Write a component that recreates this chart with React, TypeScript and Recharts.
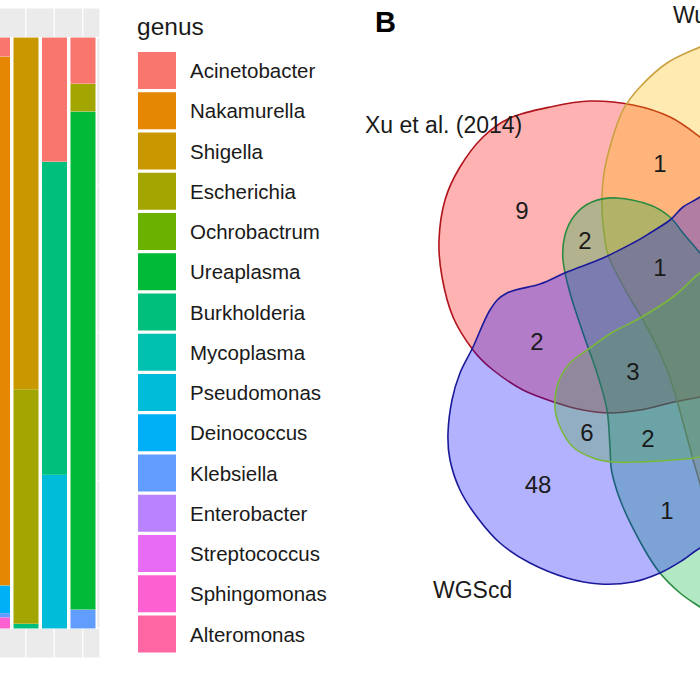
import React from "react";
import {
  BarChart,
  Bar,
  XAxis,
  YAxis,
  CartesianGrid,
  Legend,
  ScatterChart,
  Scatter,
} from "recharts";

const FONT = '"Liberation Sans", Arial, Helvetica, sans-serif';

// ---- panel A: genus composition per sample (only the right-most samples are in view)
const SAMPLES = ["S1", "S2", "S3", "S4"];
const GENERA = [
  "Acinetobacter",
  "Nakamurella",
  "Shigella",
  "Escherichia",
  "Ochrobactrum",
  "Ureaplasma",
  "Burkholderia",
  "Mycoplasma",
  "Pseudomonas",
  "Deinococcus",
  "Klebsiella",
  "Enterobacter",
  "Streptococcus",
  "Sphingomonas",
  "Alteromonas",
];
const GENUS_COLORS = [
  "#F8766D",
  "#E58700",
  "#C99800",
  "#A3A500",
  "#6BB100",
  "#00BA38",
  "#00BF7D",
  "#00C0AF",
  "#00BCD8",
  "#00B0F6",
  "#619CFF",
  "#B983FF",
  "#E76BF3",
  "#FD61D1",
  "#FF67A4",
];
// relative abundance, same order as GENERA
const S1_SHARES = [0.032, 0.895, 0, 0, 0, 0, 0, 0, 0, 0.047, 0.007, 0, 0, 0.019, 0];
const S2_SHARES = [0, 0, 0.595, 0.397, 0, 0, 0.008, 0, 0, 0, 0, 0, 0, 0, 0];
const S3_SHARES = [0.21, 0, 0, 0, 0, 0, 0.53, 0, 0.26, 0, 0, 0, 0, 0, 0];
const S4_SHARES = [0.078, 0, 0, 0.047, 0, 0.843, 0, 0, 0, 0, 0.032, 0, 0, 0, 0];
const Y_TICKS = [0, 0.25, 0.5, 0.75, 1];

// ---- panel B: five-set Venn, outlines in venn units (x right, y up)
const XU_OUTLINE = [
  [500, 1198], [586, 1190], [660, 1166], [720, 1126], [800, 1060], [860, 970],
  [890, 860], [880, 740], [830, 650], [770, 616], [720, 606], [660, 594],
  [600, 580], [540, 574], [486, 580], [434, 594], [366, 620], [306, 660],
  [266, 700], [226, 766], [204, 846], [198, 920], [210, 1000], [240, 1066],
  [286, 1126], [340, 1164], [420, 1186],
];
const WU_OUTLINE = [
  [720, 1306], [654, 1274], [600, 1226], [566, 1180], [544, 1120], [528, 1054],
  [524, 986], [530, 920], [540, 880], [574, 814], [606, 760], [640, 694],
  [666, 626], [694, 526], [714, 454], [744, 370], [810, 330], [900, 400],
  [980, 560], [1020, 760], [1010, 980], [950, 1180], [860, 1300], [780, 1330],
];
const GREEN_OUTLINE = [
  [554, 1004], [620, 990], [660, 966], [686, 934], [720, 894], [800, 800],
  [870, 620], [910, 400], [890, 220], [820, 150], [760, 160], [720, 186],
  [680, 214], [640, 254], [606, 306], [566, 386], [544, 454], [540, 506],
  [534, 580], [514, 654], [486, 734], [460, 814], [446, 880], [450, 930],
  [470, 970], [504, 996],
];
const LIME_OUTLINE = [
  [430, 586], [436, 634], [460, 674], [500, 704], [546, 736], [600, 764],
  [666, 806], [720, 854], [800, 910], [890, 936], [950, 880], [940, 740],
  [870, 600], [790, 510], [720, 486], [666, 480], [600, 476], [546, 476],
  [506, 484], [466, 506], [440, 546],
];
const WGSCD_OUTLINE = [
  [720, 1006], [800, 1060], [900, 1080], [980, 1000], [1020, 820], [990, 620],
  [900, 460], [800, 350], [720, 304], [686, 280], [640, 254], [586, 236],
  [520, 232], [454, 244], [380, 274], [320, 314], [274, 366], [240, 420],
  [220, 480], [216, 534], [224, 600], [240, 654], [266, 706], [300, 780],
  [334, 814], [400, 832], [454, 856], [526, 884], [586, 914], [620, 934],
  [660, 960], [686, 986],
];
// drawing order matters for the blended overlaps
const VENN_OUTLINES = [XU_OUTLINE, WU_OUTLINE, GREEN_OUTLINE, WGSCD_OUTLINE, LIME_OUTLINE];
const VENN_FILLS = ["#FF0000", "#FFB900", "#00B23A", "#0000FF", "#46A738"];
const VENN_STROKES = ["#B0141C", "#C9A040", "#2A8C40", "#1A1A9A", "#7AB83C"];

const SET_NAMES = ["Xu et al. (2014)", "Wu et al.", "WGScd"];
const SET_NAME_X = [50, 666, 186];
const SET_NAME_Y = [1134, 1354, 204];

const REGION_COUNTS = [9, 1, 2, 1, 2, 3, 6, 2, 48, 1];
const REGION_X = [364, 640, 490, 640, 394, 586, 494, 616, 396, 654];
const REGION_Y = [980, 1074, 920, 866, 718, 658, 536, 524, 432, 380];

const SHARES = [S1_SHARES, S2_SHARES, S3_SHARES, S4_SHARES];
const barRows = SAMPLES.map((sample, i) => {
  const row: Record<string, number | string> = { sample };
  GENERA.forEach((g, j) => {
    row[g] = SHARES[i][j];
  });
  return row;
});

const toPoints = (pairs: number[][]) => pairs.map(([x, y]) => ({ x, y }));
const countData = REGION_COUNTS.map((n, i) => ({ x: REGION_X[i], y: REGION_Y[i], label: String(n) }));
const nameData = SET_NAMES.map((n, i) => ({ x: SET_NAME_X[i], y: SET_NAME_Y[i], label: n }));

// stacked segment with white slivers on both sides (the gaps between bars)
const GapBar = (props: any) => {
  const { x, y, width, height, fill } = props;
  if (!height || height <= 0) return <g />;
  return (
    <g>
      <rect x={x - 1.8} y={y} width={width + 3.6} height={height} fill="#FFFFFF" />
      <rect x={x} y={y} width={width} height={height} fill={fill} />
    </g>
  );
};

const GenusLegend = () => (
  <svg width={220} height={660} style={{ display: "block" }}>
    <text x={7} y={35} fontSize={24.5} fontFamily={FONT} fill="#1A1A1A">
      genus
    </text>
    {GENERA.map((g, i) => {
      const top = 52 + 40.25 * i;
      return (
        <g key={g}>
          <rect x={8} y={top} width={38} height={37} fill={GENUS_COLORS[i]} />
          <text x={60} y={top + 26} fontSize={20.5} fontFamily={FONT} fill="#1A1A1A">
            {g}
          </text>
        </g>
      );
    })}
  </svg>
);

// closed smooth curve through the outline points (Catmull-Rom)
function closedCurve(pts: { x: number; y: number }[]) {
  const n = pts.length;
  let d = `M${pts[0].x},${pts[0].y}`;
  for (let i = 0; i < n; i++) {
    const p0 = pts[(i - 1 + n) % n];
    const p1 = pts[i];
    const p2 = pts[(i + 1) % n];
    const p3 = pts[(i + 2) % n];
    const c1x = p1.x + (p2.x - p0.x) / 6;
    const c1y = p1.y + (p2.y - p0.y) / 6;
    const c2x = p2.x - (p3.x - p1.x) / 6;
    const c2y = p2.y - (p3.y - p1.y) / 6;
    d += ` C${c1x},${c1y} ${c2x},${c2y} ${p2.x},${p2.y}`;
  }
  return d + "Z";
}

const outline = (fill: string, stroke: string) => (props: any) => (
  <path
    d={closedCurve(props.points)}
    fill={fill}
    fillOpacity={0.3}
    stroke={stroke}
    strokeWidth={1.6}
  />
);

const NoDot = () => <g />;

const CountText = (props: any) => (
  <text
    x={props.cx}
    y={props.cy + 8.6}
    textAnchor="middle"
    fontSize={24}
    fontFamily={FONT}
    fill="#1A1A1A"
  >
    {props.payload.label}
  </text>
);

const NameText = (props: any) => (
  <text x={props.cx} y={props.cy} fontSize={23} fontFamily={FONT} fill="#1A1A1A">
    {props.payload.label}
  </text>
);

export default function App() {
  return (
    <div
      style={{
        position: "absolute",
        left: 0,
        top: 0,
        width: 700,
        height: 700,
        overflow: "hidden",
        background: "#FFFFFF",
        fontFamily: FONT,
      }}
    >
      <div style={{ position: "absolute", left: -20, top: 0 }}>
        <BarChart
          width={120}
          height={700}
          data={barRows}
          margin={{ top: 8, right: 0, bottom: 42, left: 0 }}
        >
          <CartesianGrid fill="#EBEBEB" stroke="#FFFFFF" strokeWidth={1.2} />
          <XAxis dataKey="sample" hide padding={{ left: 3, right: 3 }} />
          <YAxis type="number" domain={[-0.05, 1.05]} ticks={Y_TICKS} hide allowDataOverflow />
          {[...GENERA].reverse().map((g) => (
            <Bar
              key={g}
              dataKey={g}
              stackId="genus"
              barSize={25}
              fill={GENUS_COLORS[GENERA.indexOf(g)]}
              shape={GapBar}
              isAnimationActive={false}
            />
          ))}
          <Legend
            layout="vertical"
            align="center"
            verticalAlign="middle"
            content={GenusLegend}
            wrapperStyle={{ left: 150, top: 0, width: 220, height: 660 }}
          />
        </BarChart>
      </div>

      <div style={{ position: "absolute", left: 340, top: 0 }}>
        <ScatterChart width={600} height={700} margin={{ top: 0, right: 0, bottom: 0, left: 0 }}>
          <XAxis type="number" dataKey="x" domain={[0, 1200]} hide allowDataOverflow />
          <YAxis type="number" dataKey="y" domain={[0, 1400]} hide allowDataOverflow />
          {VENN_OUTLINES.map((o, i) => (
            <Scatter
              key={`set-${i}`}
              data={toPoints(o)}
              shape={NoDot}
              line={outline(VENN_FILLS[i], VENN_STROKES[i])}
              lineType="joint"
              isAnimationActive={false}
            />
          ))}
          <Scatter data={countData} shape={CountText} isAnimationActive={false} />
          <Scatter data={nameData} shape={NameText} isAnimationActive={false} />
        </ScatterChart>
      </div>

      <svg
        width={60}
        height={50}
        style={{ position: "absolute", left: 360, top: 0 }}
      >
        <text x={15} y={32} fontSize={29} fontWeight="bold" fontFamily={FONT} fill="#000">
          B
        </text>
      </svg>
    </div>
  );
}
